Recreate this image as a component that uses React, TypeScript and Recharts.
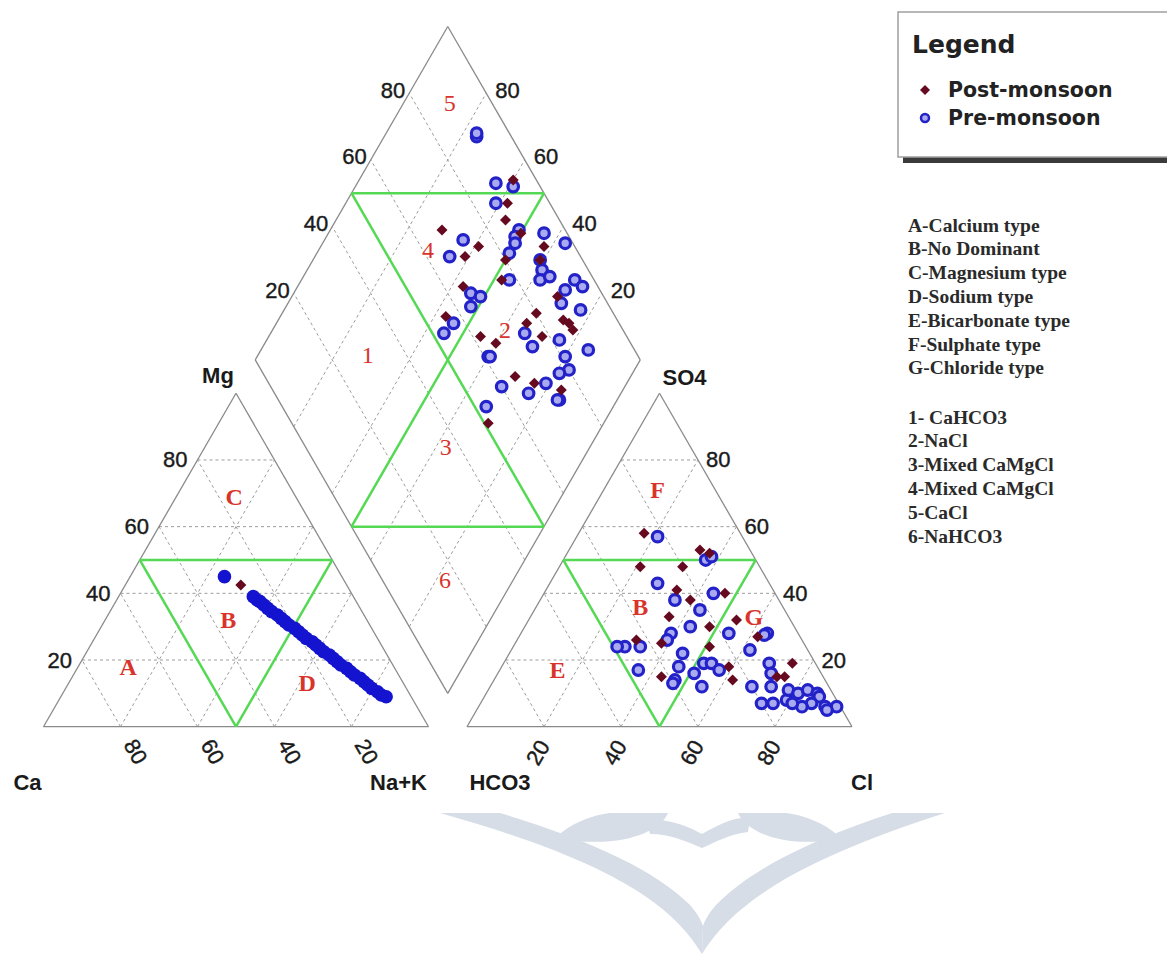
import React from 'react'
import { ScatterChart, Scatter, XAxis, YAxis, ReferenceLine } from 'recharts'

const WIDTH = 1167
const HEIGHT = 954
const UNIT = 385 // pixels per triangle side
const ORIGIN_X = 43.5 // Ca corner
const ORIGIN_Y = 726.7
const S60 = Math.sqrt(3) / 2
const GAP = 0.1 // space between the two triangles (in triangle sides)

const GRID_TICKS = [20, 40, 60, 80]

// Cation triangle, [Mg %, Na+K %]
const preCation: number[][] = [
  [45, 24.5], [39, 35], [38, 36.5], [37.5, 37.5], [36.5, 39], [35.5, 40.5], [34.5, 42],
  [33.5, 44], [32.5, 45.5], [31.5, 47], [30.5, 48.5], [29.5, 50.5], [28.5, 52], [27.5, 53.5],
  [26.5, 55], [25.5, 57], [24.5, 58.5], [23.5, 60], [22.5, 61.5], [21.5, 63.5], [20.5, 65],
  [19.5, 66.5], [18.5, 68], [17.5, 70], [16.5, 71.5], [15.5, 73], [14.5, 75], [13.5, 76.5],
  [12.5, 78], [11.5, 79.5], [10.5, 81.5], [9.5, 83], [9, 84.5],
]
const postCation: number[][] = [[42.5, 30]]

// Anion triangle, [SO4 %, Cl %]
const preAnion: number[][] = [
  [57, 21], [50, 37], [51, 38], [43, 28], [40, 44], [38, 35], [35, 43], [30, 43], [28, 39],
  [26, 39], [24, 29], [24, 27], [24, 33], [22, 45], [28, 54], [28, 64], [27.5, 63.5], [23, 62],
  [17, 36], [18, 46], [14, 47], [13, 47], [16, 51], [12, 55], [19, 52], [19, 54], [17, 57],
  [19, 69], [16, 71], [12, 68], [12, 73], [7, 73], [7, 76], [8, 79], [11, 78], [10, 81],
  [11, 83], [10, 86], [9, 87], [7, 86], [6, 84], [7, 81], [6, 90], [6, 93], [5, 91],
]
const postAnion: number[][] = [
  [58, 17], [53, 34], [52, 37], [48, 21], [48, 32], [41, 34], [38, 39], [40, 47], [33, 36],
  [30, 48], [32, 54], [26, 31], [25, 38], [24, 51], [27, 62], [15, 43], [18, 59], [14, 62],
  [19, 75], [15, 73], [15, 75],
]

// Diamond, [Ca+Mg %, SO4+Cl %]
const preDiamond: number[][] = [
  [76, 91], [76.5, 91.5], [64, 89], [59, 93], [61, 86], [64, 72], [65, 66], [51, 88], [51, 86],
  [50, 85], [50, 82], [44, 94], [37, 98], [41, 89], [39, 88], [38, 86], [36, 89], [46, 78],
  [54, 66], [51, 68], [52, 64], [54, 57], [55, 53], [29, 95], [26, 96], [30, 91], [29, 88],
  [23, 92], [34, 74], [30, 74], [40, 61], [39.5, 61.5], [24, 82], [15, 88], [20, 81], [17, 80],
  [19, 77], [32, 60], [24, 66], [21, 72], [15, 73], [15.5, 72.5], [33, 53],
]
const postDiamond: number[][] = [
  [60, 94], [58, 89], [56, 86], [71, 68], [59, 75], [61, 70], [50, 88], [50, 80], [42, 92],
  [41, 89], [48, 76], [57, 65], [57, 56], [31, 88], [34, 80], [26, 86], [24, 87], [22, 87],
  [35, 76], [29, 78], [45, 62], [40, 65], [30, 65], [24, 69], [16, 75], [30, 51],
]

// Zone letters / numbers, placed by composition
const cationZones: [string, number, number][] = [['A', 18, 13], ['B', 32, 32], ['C', 69, 15], ['D', 13, 62]]
const anionZones: [string, number, number][] = [['E', 17, 15], ['B', 36, 27], ['F', 71, 14], ['G', 33, 58]]
const diamondZones: [string, number, number][] = [
  ['1', 71.5, 30], ['2', 39.6, 69.4], ['3', 37.5, 36.5], ['4', 71.6, 61.4], ['5', 88, 89], ['6', 17.7, 16.3],
]

const zoneTypes = [
  'A-Calcium type', 'B-No Dominant', 'C-Magnesium type', 'D-Sodium type',
  'E-Bicarbonate type', 'F-Sulphate type', 'G-Chloride type',
]
const waterTypes = ['1- CaHCO3', '2-NaCl', '3-Mixed CaMgCl', '4-Mixed CaMgCl', '5-CaCl', '6-NaHCO3']

const PRE = '#2222c8'
const PRE_FILL = '#a9aaf0'
const PRE_SOLID = '#1414d0'
const POST = '#660a20'
const GREEN = '#55d955'
const EDGE = '#8a8a8a'
const GRID = '#9c9c9c'
const RED = '#d8342c'
const INK = '#1a1a1a'

type Pt = { x: number; y: number }

const cationXY = (mg: number, nak: number): Pt => ({ x: nak / 100 + mg / 200, y: (S60 * mg) / 100 })
const anionXY = (so4: number, cl: number): Pt => ({ x: 1 + GAP + cl / 100 + so4 / 200, y: (S60 * so4) / 100 })
const diamondXY = (camg: number, s: number): Pt => ({
  x: 1 + GAP / 2 + (s - camg) / 200,
  y: S60 * (GAP + (s + camg) / 100),
})

const X_DOMAIN = [-ORIGIN_X / UNIT, (WIDTH - ORIGIN_X) / UNIT]
const Y_DOMAIN = [-(HEIGHT - ORIGIN_Y) / UNIT, ORIGIN_Y / UNIT]

// Frame lines
const outline: Pt[][] = [
  [cationXY(0, 0), cationXY(0, 100)], [cationXY(0, 100), cationXY(100, 0)], [cationXY(100, 0), cationXY(0, 0)],
  [anionXY(0, 0), anionXY(0, 100)], [anionXY(0, 100), anionXY(100, 0)], [anionXY(100, 0), anionXY(0, 0)],
  [diamondXY(0, 0), diamondXY(100, 0)], [diamondXY(100, 0), diamondXY(100, 100)],
  [diamondXY(100, 100), diamondXY(0, 100)], [diamondXY(0, 100), diamondXY(0, 0)],
]

const grid: Pt[][] = GRID_TICKS.flatMap((k) => [
  [cationXY(k, 0), cationXY(k, 100 - k)],
  [cationXY(0, k), cationXY(100 - k, k)],
  [cationXY(0, 100 - k), cationXY(100 - k, 0)],
  [anionXY(k, 0), anionXY(k, 100 - k)],
  [anionXY(0, k), anionXY(100 - k, k)],
  [anionXY(0, 100 - k), anionXY(100 - k, 0)],
  [diamondXY(k, 0), diamondXY(k, 100)],
  [diamondXY(0, k), diamondXY(100, k)],
])

// Classification boundaries
const zoneLines: Pt[][] = [
  [cationXY(50, 0), cationXY(50, 50)], [cationXY(50, 0), cationXY(0, 50)], [cationXY(50, 50), cationXY(0, 50)],
  [anionXY(50, 0), anionXY(50, 50)], [anionXY(50, 0), anionXY(0, 50)], [anionXY(50, 50), anionXY(0, 50)],
  [diamondXY(100, 50), diamondXY(50, 100)], [diamondXY(50, 0), diamondXY(0, 50)],
  [diamondXY(100, 50), diamondXY(0, 50)], [diamondXY(50, 100), diamondXY(50, 0)],
]

const preCationPts = preCation.map(([a, b]) => cationXY(a, b))
const postCationPts = postCation.map(([a, b]) => cationXY(a, b))
const preAnionPts = preAnion.map(([a, b]) => anionXY(a, b))
const postAnionPts = postAnion.map(([a, b]) => anionXY(a, b))
const preDiamondPts = preDiamond.map(([a, b]) => diamondXY(a, b))
const postDiamondPts = postDiamond.map(([a, b]) => diamondXY(a, b))

const letterLabels = [
  ...cationZones.map(([t, a, b]) => ({ ...cationXY(a, b), label: t })),
  ...anionZones.map(([t, a, b]) => ({ ...anionXY(a, b), label: t })),
]
const numberLabels = diamondZones.map(([t, a, b]) => ({ ...diamondXY(a, b), label: t }))

const tickSets = [
  { data: GRID_TICKS.map((k) => ({ ...cationXY(k, 0), label: k })), dx: -10, dy: 0, anchor: 'end', rot: 0 },
  { data: GRID_TICKS.map((k) => ({ ...cationXY(0, 100 - k), label: k })), dx: 15, dy: 25, anchor: 'middle', rot: 60 },
  { data: GRID_TICKS.map((k) => ({ ...anionXY(k, 100 - k), label: k })), dx: 8, dy: 0, anchor: 'start', rot: 0 },
  { data: GRID_TICKS.map((k) => ({ ...anionXY(0, k), label: k })), dx: -6, dy: 26, anchor: 'middle', rot: -60 },
  { data: GRID_TICKS.map((k) => ({ ...diamondXY(100, k), label: k })), dx: -4, dy: -3, anchor: 'end', rot: 0 },
  { data: GRID_TICKS.map((k) => ({ ...diamondXY(k, 100), label: k })), dx: 9, dy: -3, anchor: 'start', rot: 0 },
]

const axisNames = [
  { ...cationXY(100, 0), label: 'Mg', dx: -18, dy: -10 },
  { ...anionXY(100, 0), label: 'SO4', dx: 25, dy: -8 },
  { ...cationXY(0, 0), label: 'Ca', dx: -16, dy: 63 },
  { ...cationXY(0, 100), label: 'Na+K', dx: -30, dy: 63 },
  { ...anionXY(0, 0), label: 'HCO3', dx: 33, dy: 63 },
  { ...anionXY(0, 100), label: 'Cl', dx: 10, dy: 63 },
]

const preShape = (p: any) => <circle cx={p.cx} cy={p.cy} r={5.3} fill={PRE_FILL} stroke={PRE} strokeWidth={3.2} />
const solidShape = (p: any) => <circle cx={p.cx} cy={p.cy} r={6.8} fill={PRE_SOLID} />
const postShape = (p: any) => {
  const { cx, cy } = p
  const r = 5.5
  return <polygon points={`${cx},${cy - r} ${cx + r},${cy} ${cx},${cy + r} ${cx - r},${cy}`} fill={POST} />
}

const tickShape = (dx: number, dy: number, anchor: string, rot: number) => (p: any) => {
  const x = p.cx + dx
  const y = p.cy + dy
  return (
    <text
      x={x}
      y={y}
      textAnchor={anchor as any}
      dominantBaseline="central"
      transform={rot ? `rotate(${rot} ${x} ${y})` : undefined}
      style={{ fontFamily: 'Liberation Sans, Arial, sans-serif', fontSize: 22, fill: INK, stroke: INK, strokeWidth: 0.4 }}
    >
      {p.payload.label}
    </text>
  )
}

const nameShape = (p: any) => (
  <text
    x={p.cx + p.payload.dx}
    y={p.cy + p.payload.dy}
    textAnchor="middle"
    style={{ fontFamily: 'Liberation Sans, Arial, sans-serif', fontSize: 22, fontWeight: 'bold', fill: INK }}
  >
    {p.payload.label}
  </text>
)

const zoneShape = (bold: boolean) => (p: any) => (
  <text
    x={p.cx}
    y={p.cy}
    textAnchor="middle"
    dominantBaseline="central"
    style={{
      fontFamily: 'Liberation Serif, Times New Roman, serif',
      fontSize: 24,
      fontWeight: bold ? 'bold' : 'normal',
      fill: RED,
    }}
  >
    {p.payload.label}
  </text>
)

export default function App() {
  return (
    <div style={{ position: 'absolute', left: 0, top: 0, width: WIDTH, height: HEIGHT, background: '#fff', overflow: 'hidden' }}>
      {/* faint watermark under the plot */}
      <svg width={WIDTH} height={HEIGHT} style={{ position: 'absolute', left: 0, top: 0 }}>
        <g fill="#d6dde6">
          <path d="M440,813 L500,813 C590,840 655,870 690,905 C697,913 701,920 703,926 L702,954 C670,900 600,858 440,813 Z" />
          <path d="M945,813 L892,813 C810,840 750,870 716,905 C709,913 705,920 703,926 L702,954 C735,900 805,858 945,813 Z" />
          <path d="M556,838 C570,822 600,813 612,813 L668,813 C660,832 620,850 556,838 Z" />
          <path d="M840,838 C826,822 796,813 784,813 L738,813 C746,832 786,850 840,838 Z" />
          <path d="M646,820 C668,818 688,826 702,834 C716,826 734,816 750,818 L748,832 C730,834 716,842 702,848 C688,842 670,834 650,834 Z" />
        </g>
      </svg>

      <div style={{ position: 'absolute', left: 0, top: 0 }}>
        <ScatterChart width={WIDTH} height={HEIGHT} margin={{ top: 0, right: 0, bottom: 0, left: 0 }}>
          <XAxis type="number" dataKey="x" domain={X_DOMAIN} hide allowDataOverflow />
          <YAxis type="number" dataKey="y" domain={Y_DOMAIN} hide allowDataOverflow />

          {grid.map((s, i) => (
            <ReferenceLine key={`grid-${i}`} segment={s} stroke={GRID} strokeWidth={1} strokeDasharray="3 3" ifOverflow="visible" />
          ))}
          {outline.map((s, i) => (
            <ReferenceLine key={`edge-${i}`} segment={s} stroke={EDGE} strokeWidth={1.3} ifOverflow="visible" />
          ))}
          {zoneLines.map((s, i) => (
            <ReferenceLine key={`zone-${i}`} segment={s} stroke={GREEN} strokeWidth={2.5} ifOverflow="visible" />
          ))}

          <Scatter data={letterLabels} shape={zoneShape(true)} isAnimationActive={false} />
          <Scatter data={numberLabels} shape={zoneShape(false)} isAnimationActive={false} />
          {tickSets.map((t, i) => (
            <Scatter key={`ticks-${i}`} data={t.data} shape={tickShape(t.dx, t.dy, t.anchor, t.rot)} isAnimationActive={false} />
          ))}
          <Scatter data={axisNames} shape={nameShape} isAnimationActive={false} />

          <Scatter name="Pre-monsoon" data={preCationPts} shape={solidShape} isAnimationActive={false} />
          <Scatter name="Pre-monsoon" data={preAnionPts} shape={preShape} isAnimationActive={false} />
          <Scatter name="Pre-monsoon" data={preDiamondPts} shape={preShape} isAnimationActive={false} />
          <Scatter name="Post-monsoon" data={postCationPts} shape={postShape} isAnimationActive={false} />
          <Scatter name="Post-monsoon" data={postAnionPts} shape={postShape} isAnimationActive={false} />
          <Scatter name="Post-monsoon" data={postDiamondPts} shape={postShape} isAnimationActive={false} />
        </ScatterChart>
      </div>

      {/* legend box and classification key */}
      <svg width={WIDTH} height={HEIGHT} style={{ position: 'absolute', left: 0, top: 0, pointerEvents: 'none' }}>
        <rect x={903} y={157} width={300} height={6} fill="#3a3a3a" />
        <rect x={898} y={12} width={300} height={145} fill="#fff" stroke="#a0a0a0" strokeWidth={1.5} />
        <g style={{ fontFamily: 'DejaVu Sans, Verdana, sans-serif', fontWeight: 'bold', fill: '#222' }}>
          <text x={912} y={53} fontSize={25}>Legend</text>
          <polygon points="925,85 930,90 925,95 920,90" fill={POST} />
          <text x={948} y={97} fontSize={20.5}>Post-monsoon</text>
          <circle cx={925} cy={118} r={4} fill={PRE_FILL} stroke={PRE} strokeWidth={2.5} />
          <text x={948} y={125} fontSize={20.5}>Pre-monsoon</text>
        </g>
        <g style={{ fontFamily: 'Liberation Serif, Times New Roman, serif', fontWeight: 'bold', fontSize: 19.5, fill: '#2a2a2a' }}>
          {zoneTypes.map((t, i) => (
            <text key={t} x={908} y={231.5 + i * 23.8}>{t}</text>
          ))}
          {waterTypes.map((t, i) => (
            <text key={t + i} x={908} y={423.5 + i * 23.8}>{t}</text>
          ))}
        </g>
      </svg>
    </div>
  )
}
